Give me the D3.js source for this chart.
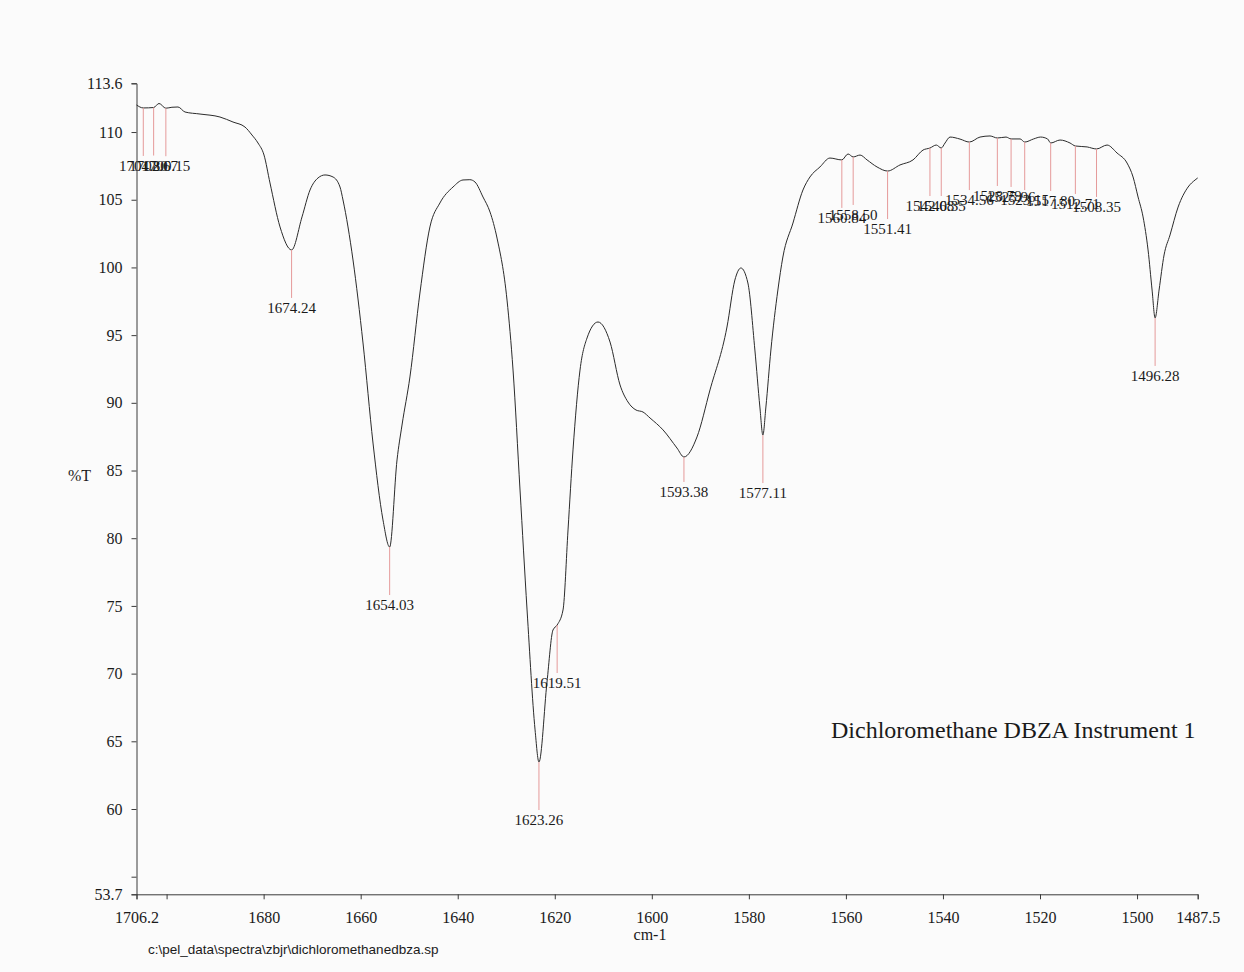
<!DOCTYPE html>
<html>
<head>
<meta charset="utf-8">
<script src="https://cdn.jsdelivr.net/npm/d3@7"></script>
<style>
  body { margin: 0; background: #fbfbfb; }
  svg { display: block; }
  text { font-family: "Liberation Serif", "Times New Roman", serif; fill: #1a1a1a; }
</style>
</head>
<body>
<div id="okvir"></div>
<script>
// spectrum (cm-1, %T), high wavenumber first
const wavenumber = [
  1706.2, 1704.80, 1702.67, 1701.56, 1700.15, 1698.9, 1697.65, 1696.20, 1693.11, 1689.00,
  1686.31, 1683.84, 1682.40, 1681.16, 1679.92, 1678.69, 1676.62, 1674.24, 1672.09, 1670.44,
  1668.79, 1667.35, 1665.70, 1664.26, 1663.64, 1661.58, 1659.52, 1657.46, 1655.40, 1654.03,
  1652.51, 1651.48, 1649.85, 1647.79, 1645.73, 1643.67, 1640.97, 1638.91, 1637.5, 1636.44,
  1634.79, 1633.34, 1631.90, 1629.84, 1628.60, 1627.16, 1625.71, 1624.06, 1623.26, 1621.60,
  1620.37, 1619.51, 1618.30, 1617.27, 1616.24, 1614.80, 1613.35, 1611.09, 1608.61, 1606.55,
  1604.91, 1603.26, 1601.81, 1600.37, 1597.69, 1594.81, 1593.38, 1590.69, 1588.01, 1584.51,
  1582.88, 1581.64, 1580.20, 1578.76, 1577.73, 1577.11, 1576.49, 1575.46, 1574.02, 1572.99,
  1570.91, 1568.85, 1567.41, 1565.35, 1563.29, 1560.84, 1559.56, 1558.50, 1557.08, 1555.64,
  1553.58, 1551.41, 1548.85, 1546.17, 1544.11, 1542.68, 1541.37, 1540.35, 1539.57, 1538.54,
  1536.48, 1534.56, 1532.36, 1530.30, 1528.79, 1527.00, 1525.96, 1524.10, 1523.15, 1521.32,
  1519.88, 1518.44, 1517.80, 1515.87, 1513.81, 1512.71, 1510.29, 1508.35, 1506.18, 1504.12,
  1502.06, 1500.82, 1499.79, 1498.76, 1497.73, 1496.90, 1496.28, 1495.46, 1494.43, 1493.20,
  1491.54, 1489.48, 1488.04, 1487.5
]
const transmittance = [
  112.00, 111.78, 111.81, 112.11, 111.76, 111.83, 111.85, 111.48, 111.33, 111.11,
  110.74, 110.37, 109.78, 109.19, 108.30, 106.24, 102.99, 101.29, 103.73, 105.72,
  106.61, 106.83, 106.68, 105.94, 104.98, 100.55, 94.42, 87.03, 81.35, 79.35,
  85.78, 88.36, 91.91, 98.11, 102.99, 104.76, 105.94, 106.46, 106.48, 106.31,
  105.20, 104.09, 102.17, 97.59, 92.42, 83.56, 74.70, 65.84, 63.47, 69.38,
  73.22, 73.59, 74.70, 80.61, 86.52, 92.42, 94.79, 95.97, 94.49, 91.32,
  90.06, 89.47, 89.32, 88.88, 88.00, 86.66, 86.00, 87.48, 90.95, 95.60,
  99.07, 99.96, 98.85, 93.90, 89.69, 87.62, 89.69, 93.90, 98.33, 100.77,
  103.28, 105.72, 106.68, 107.42, 108.08, 107.94, 108.38, 108.16, 108.30, 107.94,
  107.42, 107.12, 107.57, 107.94, 108.67, 108.82, 109.04, 108.82, 109.19, 109.63,
  109.48, 109.26, 109.63, 109.71, 109.56, 109.63, 109.49, 109.49, 109.26, 109.49,
  109.63, 109.49, 109.19, 109.41, 109.19, 108.97, 108.90, 108.75, 109.04, 108.45,
  107.71, 106.68, 105.20, 103.73, 101.29, 98.33, 96.27, 98.33, 100.92, 102.40,
  104.46, 105.94, 106.46, 106.61
]

// peak picks
const peakWn = [
  1704.80, 1702.67, 1700.15, 1674.24, 1654.03, 1623.26, 1619.51, 1593.38, 1577.11,
  1560.84, 1558.50, 1551.41, 1542.68, 1540.35, 1534.56, 1528.79, 1525.96, 1523.15,
  1517.80, 1512.71, 1508.35, 1496.28
]
const peakLabels = peakWn.map(d => d.toFixed(2))

const xTickValues = [1706.2, 1700, 1680, 1660, 1640, 1620, 1600, 1580, 1560, 1540, 1520, 1500, 1487.5]
const xTickLabels = ["1706.2", "", "1680", "1660", "1640", "1620", "1600", "1580", "1560", "1540", "1520", "1500", "1487.5"]
const yTickValues = [113.6, 110, 105, 100, 95, 90, 85, 80, 75, 70, 65, 60, 55, 53.7]
const yTickLabels = ["113.6", "110", "105", "100", "95", "90", "85", "80", "75", "70", "65", "60", "", "53.7"]

const xTitle = "cm-1"
const yTitle = "%T"
const sampleTitle = "Dichloromethane DBZA Instrument 1"
const filePath = "c:\\pel_data\\spectra\\zbjr\\dichloromethanedbza.sp"

function crtajSpektar() {
  const spektar = wavenumber.map((w, i) => ({ w: w, t: transmittance[i] }))

  const dim = {
    sirina: 1244,
    visina: 972,
    margine: { top: 83.3, left: 136.5 },
    grSirina: 1061.2,
    grVisina: 811,
  }

  const svg = d3.select("#okvir").append("svg")
      .attr("width", dim.sirina)
      .attr("height", dim.visina)

  svg.append("rect")
      .attr("width", dim.sirina)
      .attr("height", dim.visina)
      .attr("fill", "#fbfbfb")

  const g = svg.append("g")
      .attr("transform", `translate(${dim.margine.left},${dim.margine.top})`)

  const x = d3.scaleLinear().domain([1706.2, 1487.5]).range([0, dim.grSirina])
  const y = d3.scaleLinear().domain([53.7, 113.6]).range([dim.grVisina, 0])

  // osi
  const xOs = g.append("g")
      .attr("transform", `translate(0,${dim.grVisina})`)
      .call(d3.axisBottom(x)
        .tickValues(xTickValues)
        .tickFormat((d, i) => xTickLabels[i])
        .tickSizeOuter(0)
        .tickSize(5)
        .tickPadding(12))
  const yOs = g.append("g")
      .call(d3.axisLeft(y)
        .tickValues(yTickValues)
        .tickFormat((d, i) => yTickLabels[i])
        .tickSizeOuter(0)
        .tickSize(5)
        .tickPadding(9))

  ;[xOs, yOs].forEach(os => {
    os.selectAll("path, line").attr("stroke", "#3a3a3a")
    os.selectAll("text")
        .attr("font-family", "'Liberation Serif', serif")
        .attr("font-size", 16)
        .attr("fill", "#1a1a1a")
  })

  // krivulja
  const linija = d3.line()
      .x(d => x(d.w))
      .y(d => y(d.t))
      .curve(d3.curveMonotoneX)

  g.append("path")
      .datum(spektar)
      .attr("d", linija)
      .attr("fill", "none")
      .attr("stroke", "#2b2b2b")
      .attr("stroke-width", 1)

  // oznake vrhova
  const spust = d => d === 1593.38 ? 35 : 58
  const tNa = w => spektar.find(d => d.w === w).t

  const vrhovi = g.append("g").selectAll("g")
    .data(peakWn)
    .join("g")

  vrhovi.append("line")
      .attr("x1", d => x(d))
      .attr("x2", d => x(d))
      .attr("y1", d => y(tNa(d)))
      .attr("y2", d => y(tNa(d)) + spust(d) - 10)
      .attr("stroke", "#e59a9a")
      .attr("stroke-width", 1)

  vrhovi.append("text")
      .attr("x", d => x(d))
      .attr("y", d => y(tNa(d)) + spust(d) + 5)
      .attr("text-anchor", "middle")
      .attr("font-size", 15)
      .text((d, i) => peakLabels[i])

  // naslovi
  svg.append("text")
      .attr("x", 650)
      .attr("y", 940)
      .attr("text-anchor", "middle")
      .attr("font-size", 16)
      .text(xTitle)

  svg.append("text")
      .attr("x", 68)
      .attr("y", 481)
      .attr("font-size", 16)
      .text(yTitle)

  svg.append("text")
      .attr("x", 831)
      .attr("y", 738)
      .attr("font-size", 24)
      .text(sampleTitle)

  svg.append("text")
      .attr("x", 148)
      .attr("y", 954)
      .attr("font-size", 13.5)
      .style("font-family", "'Liberation Sans', Arial, sans-serif")
      .text(filePath)
}
crtajSpektar()
</script>
</body>
</html>
